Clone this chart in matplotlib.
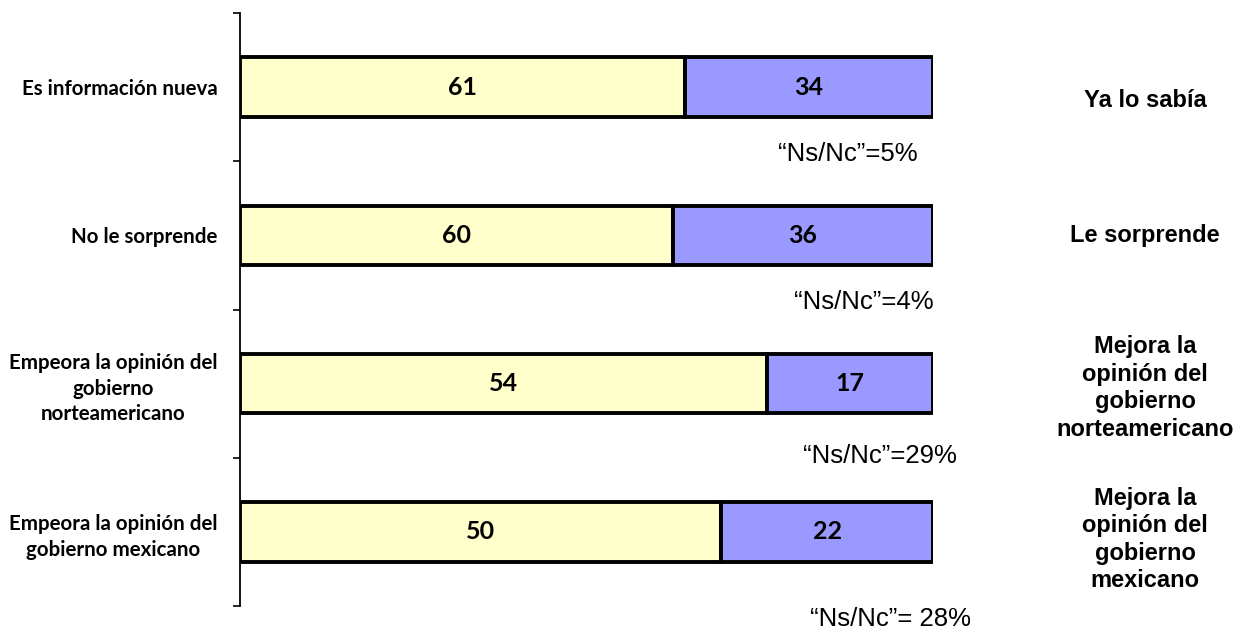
import numpy as np
import matplotlib.pyplot as plt

# Survey answers (percent), left / right share of each bar
categories = ["Es información nueva",
              "No le sorprende",
              "Empeora la opinión del\ngobierno\nnorteamericano",
              "Empeora la opinión del\ngobierno mexicano"]
left_vals = [61, 60, 54, 50]
right_vals = [34, 36, 17, 22]
right_labels = ["Ya lo sabía",
                "Le sorprende",
                "Mejora la\nopinión del\ngobierno\nnorteamericano",
                "Mejora la\nopinión del\ngobierno\nmexicano"]
nsnc_labels = ["\u201cNs/Nc\u201d=5%", "\u201cNs/Nc\u201d=4%",
               "\u201cNs/Nc\u201d=29%", "\u201cNs/Nc\u201d= 28%"]

# annotation placement (axes-fraction x, y offset from bar centre)
nsnc_x = [0.877, 0.900, 0.924, 0.938]
nsnc_dy = [0.45, 0.45, 0.49, 0.59]
side_x = 1.306
side_dy = [0.09, 0.0, 0.03, 0.05]

yellow = "#FFFFCC"
blue = "#9999FF"

left = np.array(left_vals, dtype=float)
right = np.array(right_vals, dtype=float)
total = left + right
left_share = left / total
right_share = right / total
y = np.arange(len(categories))

fig = plt.figure(figsize=(12.35, 6.3), dpi=100)
ax = fig.add_axes([240 / 1235, 24 / 630, 693 / 1235, 593 / 630])

ax.barh(y, left_share, height=0.40, color=yellow, edgecolor="black", linewidth=2.8)
ax.barh(y, right_share, left=left_share, height=0.40, color=blue,
        edgecolor="black", linewidth=2.8)

for i in range(len(categories)):
    ax.text(left_share[i] / 2, y[i], str(left_vals[i]), ha="center", va="center",
            fontsize=18, fontweight="bold", family="Lato")
    ax.text(left_share[i] + right_share[i] / 2, y[i], str(right_vals[i]),
            ha="center", va="center", fontsize=18, fontweight="bold", family="Lato")
    ax.text(side_x, y[i] + side_dy[i], right_labels[i], transform=ax.get_yaxis_transform(),
            ha="center", va="center", fontsize=17, fontweight="bold",
            family="Liberation Sans", linespacing=1.25, clip_on=False)
    ax.text(nsnc_x[i], y[i] + nsnc_dy[i], nsnc_labels[i], transform=ax.get_yaxis_transform(),
            ha="center", va="center", fontsize=18.5, family="Liberation Sans",
            clip_on=False)

ax.set_xlim(0, 1)
ax.set_ylim(len(categories) - 0.5, -0.5)

ax.set_yticks(y)
ax.set_yticklabels(categories, fontsize=14.8, fontweight="bold", family="Lato",
                   multialignment="center", linespacing=1.36)
ax.set_yticks(np.arange(-0.5, len(categories)), minor=True)
ax.tick_params(axis="y", which="major", length=0, pad=16)
ax.tick_params(axis="y", which="minor", length=5, width=1.2, direction="out")
ax.set_xticks([])

for side in ["top", "right", "bottom"]:
    ax.spines[side].set_visible(False)
ax.spines["left"].set_linewidth(1.3)

fig.savefig("out.png", dpi=100)
